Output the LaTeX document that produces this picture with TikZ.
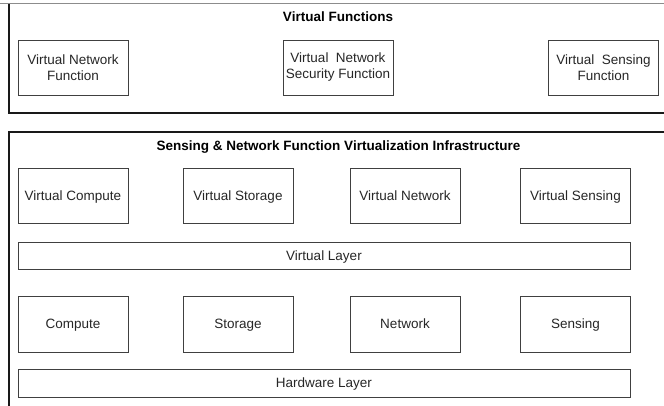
\documentclass[tikz,border=0pt]{standalone}
\usepackage{fontspec}
\setmainfont{Liberation Sans}
\begin{document}
\begin{tikzpicture}[x=1pt,y=-1pt,
  panel/.style={draw=black!90, line width=1.1pt},
  fbox/.style={draw=black!75, line width=0.85pt, minimum width=110pt, minimum height=55pt,
               inner sep=0pt, align=center, text=black!85,
               font=\fontsize{13.5}{16}\selectfont},
  oneline/.style={text height=9.7pt, text depth=0.6pt},
  layer/.style={fbox, oneline, minimum width=612pt, minimum height=27pt},
  title/.style={font=\fontsize{13.5}{16}\selectfont\bfseries, text=black, inner sep=0pt}]
\useasboundingbox (0,0) rectangle (664,406);

% upper panel: virtual functions
\draw[black!45, line width=1.8pt] (0,3.5) -- (664,3.5);
\draw[panel] (664,113) -- (9,113) -- (9,4);
\node[title] (vftitle) at (338,17) {Virtual Functions};
\node[fbox] (vnf)  at (73,67.5)    {Virtual Network\\Function};
\node[fbox] (vnsf) at (338,67.5)   {Virtual\ \ Network\\Security Function};
\node[fbox] (vsf)  at (603.5,67.5) {Virtual\ \ Sensing\\Function};

% lower panel: virtualization infrastructure
\draw[panel] (664,132) -- (9,132) -- (9,406);
\node[title] (nfvtitle) at (338.5,147) {Sensing \& Network Function Virtualization Infrastructure};

\node[fbox, oneline] (vcomp) at (73,195.5)    {Virtual Compute};
\node[fbox, oneline] (vstor) at (238,195.5)   {Virtual Storage};
\node[fbox, oneline] (vnet)  at (405,195.5)   {Virtual Network};
\node[fbox, oneline] (vsens) at (575.5,195.5) {Virtual Sensing};

\node[layer] (vlayer) at (324,255.5) {Virtual Layer};

\node[fbox, oneline, minimum height=56pt] (comp) at (73,324)    {Compute};
\node[fbox, oneline, minimum height=56pt] (stor) at (238,324)   {Storage};
\node[fbox, oneline, minimum height=56pt] (net)  at (405,324)   {Network};
\node[fbox, oneline, minimum height=56pt] (sens) at (575.5,324) {Sensing};

\node[layer, minimum height=28pt] (hwlayer) at (324,383) {Hardware Layer};
\end{tikzpicture}
\end{document}
